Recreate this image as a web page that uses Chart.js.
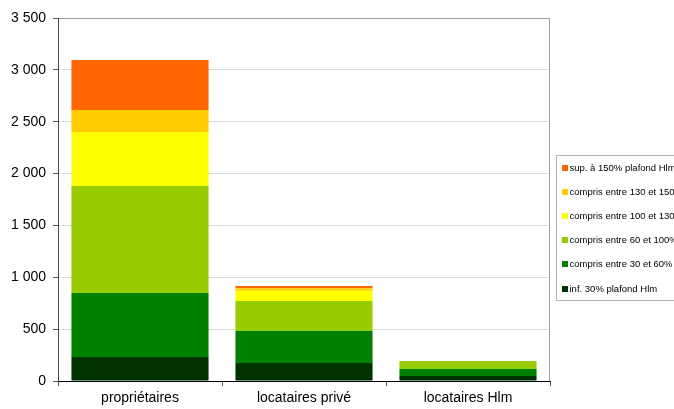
<!DOCTYPE html>
<html>
<head>
<meta charset="utf-8">
<script src="https://cdn.jsdelivr.net/npm/chart.js@4/dist/chart.umd.min.js"></script>
<style>
  body { margin: 0; background: #fff; overflow: hidden; }
</style>
</head>
<body>
<canvas id="chart" width="674" height="409"></canvas>
<script>
// categories and series, bottom of the stack first
var categories = ['propriétaires', 'locataires privé', 'locataires Hlm'];
var seriesLabels = [
    'inf. 30% plafond Hlm',
    'compris entre 30 et 60%',
    'compris entre 60 et 100%',
    'compris entre 100 et 130%',
    'compris entre 130 et 150%',
    'sup. à 150% plafond Hlm'
];
var inf30 = [231, 174, 48];
var entre30et60 = [618, 308, 68];
var entre60et100 = [1031, 289, 77];
var entre100et130 = [521, 100, 0];
var entre130et150 = [212, 23, 0];
var sup150 = [482, 22, 0];
var yTicks = [0, 500, 1000, 1500, 2000, 2500, 3000, 3500];

var seriesValues = [inf30, entre30et60, entre60et100, entre100et130, entre130et150, sup150];
var colors = ['#003300', '#008000', '#99cc00', '#ffff00', '#ffcc00', '#ff6600'];

function formatNumber(v) {
    return String(v).replace(/\B(?=(\d{3})+(?!\d))/g, ' ');
}

// legend box drawn on the canvas, clipped at the right edge like the original
var boxLegend = {
    id: 'boxLegend',
    afterDraw: function (chart) {
        var ctx = chart.ctx;
        var left = 556.5, top = 155.5, height = 145;
        ctx.save();
        ctx.strokeStyle = '#b4b4b4';
        ctx.lineWidth = 1;
        ctx.strokeRect(left, top, 140, height);
        ctx.font = '9.5px "Liberation Sans", Arial, sans-serif';
        ctx.textBaseline = 'middle';
        ctx.fillStyle = '#000';
        var ds = chart.data.datasets.slice().reverse();
        ds.forEach(function (d, i) {
            var y = 167.5 + i * 24.2;
            ctx.fillStyle = d.backgroundColor;
            ctx.fillRect(562, Math.round(y - 3), 6, 6);
            ctx.fillStyle = '#000';
            ctx.fillText(d.label, 569.5, y + 0.5);
        });
        ctx.restore();
    }
};

// gray right border of the plot area
var plotBorder = {
    id: 'plotBorder',
    afterDatasetsDraw: function (chart) {
        var a = chart.chartArea;
        var ctx = chart.ctx;
        ctx.save();
        ctx.strokeStyle = '#a0a0a0';
        ctx.lineWidth = 1;
        ctx.beginPath();
        ctx.moveTo(Math.round(a.right) - 0.5, a.top);
        ctx.lineTo(Math.round(a.right) - 0.5, a.bottom);
        ctx.stroke();
        ctx.restore();
    }
};

var ctx = document.getElementById('chart').getContext('2d');
var chart = new Chart(ctx, {
    type: 'bar',
    data: {
        labels: categories,
        datasets: seriesValues.map(function (vals, i) {
            return {
                label: seriesLabels[i],
                data: vals,
                backgroundColor: colors[i],
                borderWidth: 0,
                categoryPercentage: 1,
                barPercentage: 0.836
            };
        })
    },
    options: {
        responsive: false,
        animation: false,
        layout: { padding: { top: 18, right: 124, left: 0, bottom: 0 } },
        plugins: {
            legend: { display: false },
            tooltip: { enabled: false }
        },
        scales: {
            x: {
                stacked: true,
                grid: {
                    drawOnChartArea: false,
                    tickLength: 5,
                    tickColor: '#555',
                    offset: true
                },
                border: { color: '#000', width: 1 },
                ticks: {
                    color: '#000',
                    padding: 4,
                    font: { family: '"Liberation Sans", Arial, sans-serif', size: 14 }
                },
                afterFit: function (s) { s.height = 28; }
            },
            y: {
                stacked: true,
                min: 0,
                max: 3500,
                afterBuildTicks: function (s) {
                    s.ticks = yTicks.map(function (v) { return { value: v }; });
                },
                grid: {
                    color: function (c) { return c.tick && c.tick.value === 3500 ? '#a0a0a0' : '#dcdcdc'; },
                    tickColor: '#555',
                    tickLength: 5
                },
                border: { color: '#444', width: 1 },
                ticks: {
                    color: '#000',
                    padding: 7,
                    font: { family: '"Liberation Sans", Arial, sans-serif', size: 14 },
                    callback: function (v) { return formatNumber(v); }
                },
                afterFit: function (s) { s.width = 58; }
            }
        }
    },
    plugins: [plotBorder, boxLegend]
});
</script>
</body>
</html>
